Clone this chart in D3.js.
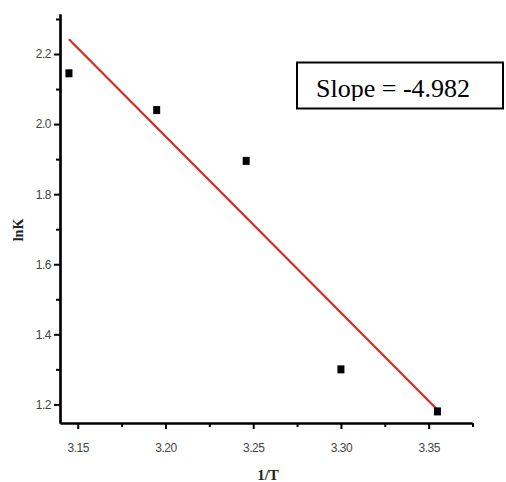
<!DOCTYPE html>
<html>
<head>
<meta charset="utf-8">
<script src="https://cdn.jsdelivr.net/npm/d3@7"></script>
<style>
  html, body { margin: 0; padding: 0; background: #fff; }
  svg { display: block; }
</style>
</head>
<body>
<svg id="chart" width="506" height="482"></svg>
<script>
// Data
const invT = [3.145, 3.195, 3.246, 3.300, 3.355];
const lnK  = [2.145, 2.040, 1.895, 1.300, 1.180];
const fitX = [3.145, 3.356];
const fitY = [2.242, 1.180];
const xMajorTicks = [3.15, 3.20, 3.25, 3.30, 3.35];
const xMinorTicks = [3.175, 3.225, 3.275, 3.325, 3.375];
const yMajorTicks = [1.2, 1.4, 1.6, 1.8, 2.0, 2.2];
const yMinorTicks = [1.3, 1.5, 1.7, 1.9, 2.1, 2.3];
const slopeLabel = "Slope = -4.982";
const xTitle = "1/T";
const yTitle = "lnK";

const svg = d3.select("#chart");
const x = d3.scaleLinear().domain([3.1399, 3.3747]).range([60, 472]);
const y = d3.scaleLinear().domain([1.1469, 2.3142]).range([423, 14]);

const labelFont = "Liberation Sans, Arial, sans-serif";

// X axis (major + minor)
const gx = svg.append("g").attr("transform", "translate(0,423)");
gx.call(d3.axisBottom(x).tickValues(xMajorTicks).tickFormat(d3.format(".2f")).tickSize(6).tickSizeOuter(0));
const gx2 = svg.append("g").attr("transform", "translate(0,423)");
gx2.call(d3.axisBottom(x).tickValues(xMinorTicks).tickFormat("").tickSize(4).tickSizeOuter(0));

// Y axis (major + minor)
const gy = svg.append("g").attr("transform", "translate(60,0)");
gy.call(d3.axisLeft(y).tickValues(yMajorTicks).tickFormat(d3.format(".1f")).tickSize(6).tickSizeOuter(0));
const gy2 = svg.append("g").attr("transform", "translate(60,0)");
gy2.call(d3.axisLeft(y).tickValues(yMinorTicks).tickFormat("").tickSize(4).tickSizeOuter(0));

svg.selectAll(".domain").attr("stroke", "#000").attr("stroke-width", 2.2);
svg.selectAll(".tick line").attr("stroke", "#000").attr("stroke-width", 2);
svg.selectAll(".tick text")
  .attr("font-family", labelFont)
  .attr("font-size", 12)
  .attr("fill", "#444")
  .attr("letter-spacing", "-0.5");
gx.selectAll(".tick text").attr("y", 20);
gy.selectAll(".tick text").attr("x", -9);

// Fit line
svg.append("line")
  .attr("x1", x(fitX[0])).attr("y1", y(fitY[0]))
  .attr("x2", x(fitX[1])).attr("y2", y(fitY[1]))
  .attr("stroke", "#d42a22").attr("stroke-width", 2.2);

// Points
svg.selectAll("rect.pt").data(invT.map((v, i) => [v, lnK[i]])).enter()
  .append("rect").attr("class", "pt")
  .attr("x", d => x(d[0]) - 3.5).attr("y", d => y(d[1]) - 4)
  .attr("width", 7).attr("height", 8)
  .attr("fill", "#000");

// Axis titles
svg.append("text")
  .attr("x", 268).attr("y", 480)
  .attr("text-anchor", "middle")
  .attr("font-family", "Liberation Serif, Times New Roman, serif")
  .attr("font-weight", "bold")
  .attr("font-size", 15)
  .attr("fill", "#222")
  .text(xTitle);

svg.append("text")
  .attr("transform", "translate(23,230) rotate(-90)")
  .attr("text-anchor", "middle")
  .attr("font-family", "Liberation Serif, Times New Roman, serif")
  .attr("font-weight", "bold")
  .attr("font-size", 14)
  .attr("fill", "#222")
  .text(yTitle);

// Slope box
svg.append("defs").append("clipPath").attr("id", "boxclip")
  .append("rect").attr("x", 297).attr("y", 62).attr("width", 206).attr("height", 39);
svg.append("rect")
  .attr("x", 297).attr("y", 62.5)
  .attr("width", 206).attr("height", 46)
  .attr("fill", "#fff").attr("stroke", "#000").attr("stroke-width", 2);
svg.append("text")
  .attr("x", 316).attr("y", 97)
  .attr("clip-path", "url(#boxclip)")
  .attr("font-family", "Liberation Serif, Times New Roman, serif")
  .attr("font-size", 26)
  .attr("fill", "#000")
  .text(slopeLabel);
</script>
</body>
</html>
